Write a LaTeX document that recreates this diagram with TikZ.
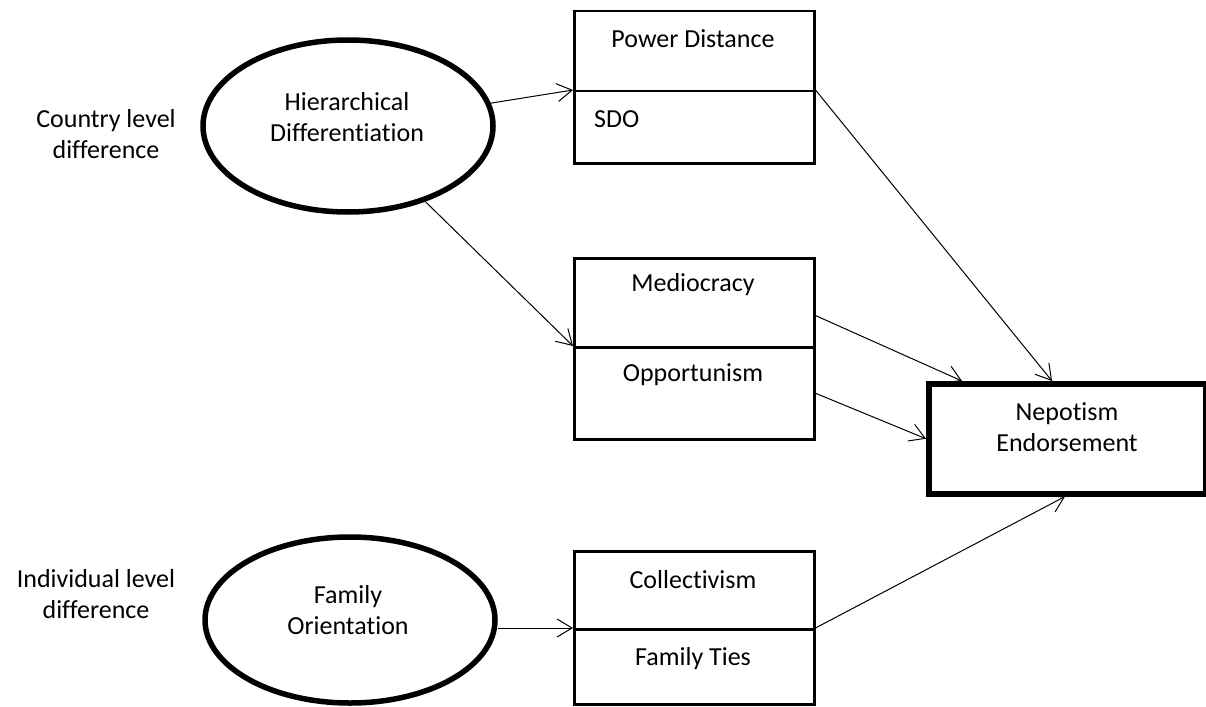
\documentclass[tikz,border=0pt]{standalone}
\usepackage{fontspec}
\setmainfont{Carlito}[Ligatures=NoCommon]
\usetikzlibrary{shapes.geometric,arrows.meta,calc}
\begin{document}
\begin{tikzpicture}[x=1pt,y=-1pt,
  every node/.style={font=\fontsize{26}{31}\selectfont},
  cell/.style={draw, line width=2.5pt, rectangle, anchor=north west, inner sep=0pt, minimum width=240pt},
  oval/.style={draw, ellipse, line width=5.5pt, inner sep=0pt},
  lbl/.style={align=center, inner sep=0pt},
  arr/.style={line width=1pt, -{Straight Barb[length=15pt,width=18pt]}}]
\fill[white] (0,0) rectangle (1206,706);
\useasboundingbox (0,0) rectangle (1206,706);

% boxes
\node[cell, minimum height=80pt] (pdA) at (573,10) {};
\node[cell, minimum height=72pt] (pdB) at (573,90) {};
\node[cell, minimum height=89pt] (mdA) at (573,257) {};
\node[cell, minimum height=92pt] (mdB) at (573,346) {};
\node[cell, minimum height=78pt] (clA) at (573,550) {};
\node[cell, minimum height=75pt] (clB) at (573,628) {};
\node[draw, line width=5.5pt, anchor=north west, inner sep=0pt, minimum width=277pt, minimum height=110pt] (nep) at (926,381) {};

% ellipses
\node[oval, minimum width=290pt, minimum height=172pt] (hd) at (348,126) {};
\node[oval, minimum width=290pt, minimum height=166pt] (fo) at (350,620) {};

% texts
\node[lbl] (hdt) at (347,117) {Hierarchical\\Differentiation};
\node[lbl] (fot) at (348,610) {Family\\Orientation};
\node[lbl] (cld) at (106,134) {Country level\\difference};
\node[lbl] (ild) at (96,594) {Individual level\\difference};
\node[lbl] (pdt) at (693,39) {Power Distance};
\node[lbl, anchor=west] (sdot) at (594,119) {SDO};
\node[lbl] (mdt) at (693,285) {Mediocracy};
\node[lbl] (opt) at (693,375) {Opportunism};
\node[lbl] (clt) at (693,580) {Collectivism};
\node[lbl] (ftt) at (693,659) {Family Ties};
\node[lbl] (nept) at (1067,427) {Nepotism\\Endorsement};

% connectors
\draw[arr] (hd) -- (pdB.north west);
\draw[arr] (hd) -- (mdB.north west);
\draw[arr] (fo.east |- clB.north west) -- (clB.north west);
\draw[arr] (pdB.north east) -- ($(nep.north west)+(126,0)$);
\draw[arr] ($(mdA.north east)!0.64!(mdA.south east)$) -- ($(nep.north west)+(36,0)$);
\draw[arr] (mdB.east) -- (nep.west);
\draw[arr] (clB.north east) -- ($(nep.south west)+(139,0)$);
\end{tikzpicture}
\end{document}
